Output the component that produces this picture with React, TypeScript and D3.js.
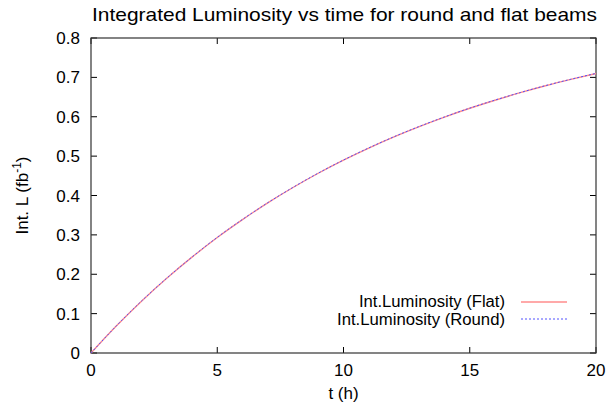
import React from "react";
import * as d3 from "d3";

const timeH = [0, 1, 2, 3, 4, 5, 6, 7, 8, 9, 10, 11, 12, 13, 14, 15, 16, 17, 18, 19, 20];
const lumFlat = [0, 0.0684, 0.1316, 0.1897, 0.2434, 0.2934, 0.3389, 0.3813, 0.4203, 0.4565, 0.4898, 0.5205, 0.5489, 0.575, 0.5992, 0.6215, 0.642, 0.6611, 0.6787, 0.6948, 0.7098];
const lumRound = [0, 0.0686, 0.1319, 0.19, 0.2437, 0.2937, 0.3392, 0.3816, 0.4206, 0.4568, 0.4901, 0.5208, 0.5492, 0.5753, 0.5995, 0.6218, 0.6423, 0.6614, 0.679, 0.6951, 0.7101];
const xTicks = [0, 5, 10, 15, 20];
const yTicks = [0, 0.1, 0.2, 0.3, 0.4, 0.5, 0.6, 0.7, 0.8];
const yTickLabels = ["0", "0.1", "0.2", "0.3", "0.4", "0.5", "0.6", "0.7", "0.8"];
const seriesNames = ["Int.Luminosity (Flat)", "Int.Luminosity (Round)"];

export default function App() {
  const W = 610, H = 411;
  const left = 91, right = 596, top = 38, bottom = 353;
  const x = d3.scaleLinear().domain([0, 20]).range([left, right]);
  const y = d3.scaleLinear().domain([0, 0.8]).range([bottom, top]);
  const line = d3.line<number>().x((_, i) => x(timeH[i])).y((d) => y(d)).curve(d3.curveMonotoneX);
  const font = "'Liberation Sans', Arial, Helvetica, sans-serif";
  const tl = 6;
  return (
    <svg width={W} height={H} style={{ position: "absolute", left: 0, top: 0, background: "#fff" }} fontFamily={font}>
      <text x={92} y={21} fontSize={19} textLength={505} lengthAdjust="spacingAndGlyphs" fill="#000">Integrated Luminosity vs time for round and flat beams</text>
      {xTicks.map((t) => (
        <g key={"x" + t}>
          <line x1={x(t)} x2={x(t)} y1={bottom} y2={bottom - tl} stroke="#000" />
          <line x1={x(t)} x2={x(t)} y1={top} y2={top + tl} stroke="#000" />
          <text x={x(t)} y={bottom + 23} textAnchor="middle" fontSize={17}>{t}</text>
        </g>
      ))}
      {yTicks.map((t, i) => (
        <g key={"y" + t}>
          <line x1={left} x2={left + tl} y1={y(t)} y2={y(t)} stroke="#000" />
          <line x1={right} x2={right - tl} y1={y(t)} y2={y(t)} stroke="#000" />
          <text x={left - 11} y={y(t) + 6} textAnchor="end" fontSize={17}>{yTickLabels[i]}</text>
        </g>
      ))}
      <rect x={left} y={top} width={right - left} height={bottom - top} fill="none" stroke="#333" strokeWidth={1.2} />
      <path d={line(lumFlat) || ""} fill="none" stroke="#ff8c8c" strokeWidth={1.4} />
      <path d={line(lumRound) || ""} fill="none" stroke="#5050ff" strokeWidth={1} strokeDasharray="2,2" />
      <text x={505} y={307} textAnchor="end" fontSize={16} textLength={146} lengthAdjust="spacingAndGlyphs">{seriesNames[0]}</text>
      <line x1={521} x2={567} y1={302} y2={302} stroke="#ff8c8c" strokeWidth={1.4} />
      <text x={505} y={325} textAnchor="end" fontSize={16} textLength={168} lengthAdjust="spacingAndGlyphs">{seriesNames[1]}</text>
      <line x1={521} x2={567} y1={319} y2={319} stroke="#5050ff" strokeWidth={1} strokeDasharray="2,2" />
      <text x={x(10)} y={399} textAnchor="middle" fontSize={17}>t (h)</text>
      <text transform={`translate(28,${(top + bottom) / 2}) rotate(-90)`} textAnchor="middle" fontSize={17}>
        Int. L (fb<tspan dy={-7} fontSize={12}>-1</tspan><tspan dy={7}>)</tspan>
      </text>
    </svg>
  );
}
